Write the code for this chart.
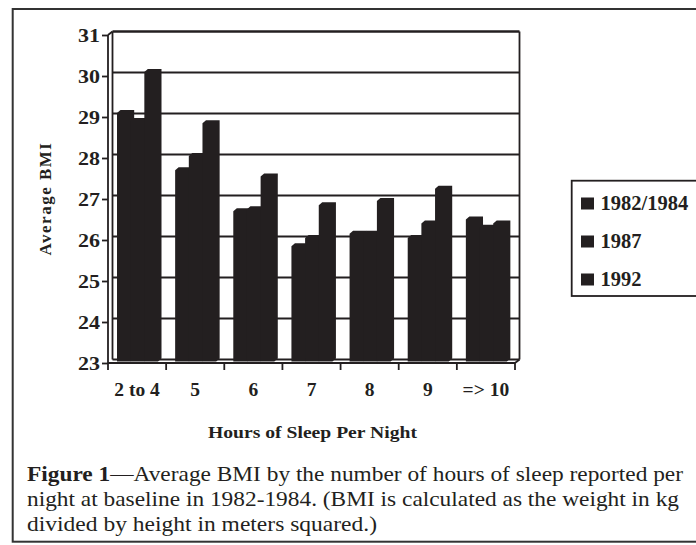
<!DOCTYPE html>
<html>
<head>
<meta charset="utf-8">
<script src="https://cdn.jsdelivr.net/npm/d3@7"></script>
<style>
  body { margin: 0; background: #fff; }
  text { font-family: 'Liberation Serif', 'Times New Roman', serif; fill: #231f20; }
</style>
</head>
<body>
<div id="chart"></div>
<script>
// data
const categories = ['2 to 4', '5', '6', '7', '8', '9', '=> 10']
const series = ['1982/1984', '1987', '1992']
const bmi1982 = [29.1, 27.7, 26.7, 25.85, 26.15, 26.05, 26.5]
const bmi1987 = [28.9, 28.05, 26.75, 26.05, 26.15, 26.4, 26.3]
const bmi1992 = [30.1, 28.85, 27.55, 26.85, 26.95, 27.25, 26.4]
const yTicks = [23, 24, 25, 26, 27, 28, 29, 30, 31]

const values = [bmi1982, bmi1987, bmi1992]
const ink = '#231f20'

const width = 696
const height = 545

// 3d offsets: back wall and bar depth
const wallDx = 4.5
const wallDy = 3.5
const barDx = 3.5
const barDy = 3

const svg = d3
  .select('#chart')
  .append('svg')
  .attr('width', width)
  .attr('height', height)

// outer frame of the figure
svg
  .append('rect')
  .attr('x', 12.7)
  .attr('y', 9)
  .attr('width', 700)
  .attr('height', 532.7)
  .attr('fill', 'none')
  .attr('stroke', '#333')
  .attr('stroke-width', 2)

const xPositionScale = d3
  .scaleBand()
  .domain(categories)
  .range([108, 515])

const xInnerScale = d3
  .scaleBand()
  .domain(series)
  .range([9, 50])

const yPositionScale = d3
  .scaleLinear()
  .domain([23, 31])
  .range([363, 35])

const x0 = xPositionScale.range()[0]
const x1 = xPositionScale.range()[1]
const yTop = yPositionScale(31)
const yBottom = yPositionScale(23)

// back wall gridlines
svg
  .selectAll('.grid')
  .data(yTicks)
  .enter()
  .append('line')
  .attr('class', 'grid')
  .attr('x1', x0 + wallDx)
  .attr('x2', x1 + wallDx)
  .attr('y1', d => yPositionScale(d) - wallDy)
  .attr('y2', d => yPositionScale(d) - wallDy)
  .attr('stroke', ink)
  .attr('stroke-width', d => (d === 31 ? 2.4 : 1.8))

// wall edges
const edges = [
  [x0 + wallDx, yTop - wallDy, x0 + wallDx, yBottom - wallDy],
  [x1 + wallDx, yTop - wallDy, x1 + wallDx, yBottom - wallDy],
  [x0, yTop, x0 + wallDx, yTop - wallDy],
  [x0, yTop, x0, yBottom],
  [x0, yBottom, x1, yBottom],
  [x1, yBottom, x1 + wallDx, yBottom - wallDy]
]

svg
  .selectAll('.edge')
  .data(edges)
  .enter()
  .append('line')
  .attr('class', 'edge')
  .attr('x1', d => d[0])
  .attr('y1', d => d[1])
  .attr('x2', d => d[2])
  .attr('y2', d => d[3])
  .attr('stroke', ink)
  .attr('stroke-width', 1.8)

// bars, drawn as front face + top + side in one shape
const barData = []
categories.forEach((c, i) => {
  series.forEach((s, j) => {
    barData.push({ category: c, series: s, value: values[j][i] })
  })
})

const bw = xInnerScale.bandwidth()

svg
  .selectAll('.bar')
  .data(barData)
  .enter()
  .append('polygon')
  .attr('class', 'bar')
  .attr('points', d => {
    const left = xPositionScale(d.category) + xInnerScale(d.series)
    const top = yPositionScale(d.value)
    const base = yBottom - 1.5
    return [
      [left, base],
      [left, top],
      [left + barDx, top - barDy],
      [left + bw + barDx, top - barDy],
      [left + bw + barDx, base - barDy],
      [left + bw, base]
    ].join(' ')
  })
  .attr('fill', ink)

// y axis
const yAxis = d3
  .axisLeft(yPositionScale)
  .tickValues(yTicks)
  .tickSize(6)
  .tickPadding(2)

svg
  .append('g')
  .attr('class', 'axis y-axis')
  .attr('transform', 'translate(' + x0 + ',0)')
  .call(yAxis)

svg.select('.y-axis .domain').remove()
svg.selectAll('.y-axis line').attr('stroke', ink).attr('stroke-width', 1.8)
svg
  .selectAll('.y-axis text')
  .attr('font-family', null)
  .attr('font-size', 19)
  .attr('font-weight', 'bold')
  .attr('textLength', 22)
  .attr('lengthAdjust', 'spacingAndGlyphs')

// x axis ticks at band edges
const xEdges = categories.map(c => xPositionScale(c)).concat([x1])

svg
  .selectAll('.xtick')
  .data(xEdges)
  .enter()
  .append('line')
  .attr('class', 'xtick')
  .attr('x1', d => d)
  .attr('x2', d => d)
  .attr('y1', yBottom)
  .attr('y2', yBottom + 7)
  .attr('stroke', ink)
  .attr('stroke-width', 1.8)

svg
  .selectAll('.xlabel')
  .data(categories)
  .enter()
  .append('text')
  .attr('class', 'xlabel')
  .attr('x', d => xPositionScale(d) + xPositionScale.bandwidth() / 2)
  .attr('y', 396)
  .attr('text-anchor', 'middle')
  .attr('font-size', 19.5)
  .attr('font-weight', 'bold')
  .text(d => d)

// axis titles
svg
  .append('text')
  .attr('x', 208)
  .attr('y', 438)
  .attr('font-size', 17)
  .attr('font-weight', 'bold')
  .attr('textLength', 209)
  .attr('lengthAdjust', 'spacingAndGlyphs')
  .text('Hours of Sleep Per Night')

svg
  .append('text')
  .attr('transform', 'translate(51,198.5) rotate(-90)')
  .attr('text-anchor', 'middle')
  .attr('font-size', 17)
  .attr('font-weight', 'bold')
  .attr('letter-spacing', 1.5)
  .text('Average BMI')

// legend
const legend = svg.append('g').attr('class', 'legend')

legend
  .append('rect')
  .attr('x', 571.7)
  .attr('y', 180.7)
  .attr('width', 130)
  .attr('height', 115.3)
  .attr('fill', 'none')
  .attr('stroke', ink)
  .attr('stroke-width', 1.8)

legend
  .selectAll('.key')
  .data(series)
  .enter()
  .append('rect')
  .attr('class', 'key')
  .attr('x', 581)
  .attr('y', (d, i) => 197.5 + i * 38)
  .attr('width', 13)
  .attr('height', 12)
  .attr('fill', ink)

legend
  .selectAll('.label')
  .data(series)
  .enter()
  .append('text')
  .attr('class', 'label')
  .attr('x', 600.5)
  .attr('y', (d, i) => 209.5 + i * 38)
  .attr('font-size', 20.5)
  .attr('font-weight', 'bold')
  .text(d => d)

// caption
const caption = svg
  .append('text')
  .attr('font-size', 22)

const line1 = caption
  .append('tspan')
  .attr('x', 27)
  .attr('y', 481)
  .attr('textLength', 656)
  .attr('lengthAdjust', 'spacingAndGlyphs')
line1.append('tspan').attr('font-weight', 'bold').text('Figure 1')
line1.append('tspan').text('—Average BMI by the number of hours of sleep reported per')

caption
  .append('tspan')
  .attr('x', 27)
  .attr('y', 506)
  .attr('textLength', 652)
  .attr('lengthAdjust', 'spacingAndGlyphs')
  .text('night at baseline in 1982-1984. (BMI is calculated as the weight in kg')

caption
  .append('tspan')
  .attr('x', 27)
  .attr('y', 531)
  .attr('textLength', 350)
  .attr('lengthAdjust', 'spacingAndGlyphs')
  .text('divided by height in meters squared.)')
</script>
</body>
</html>
